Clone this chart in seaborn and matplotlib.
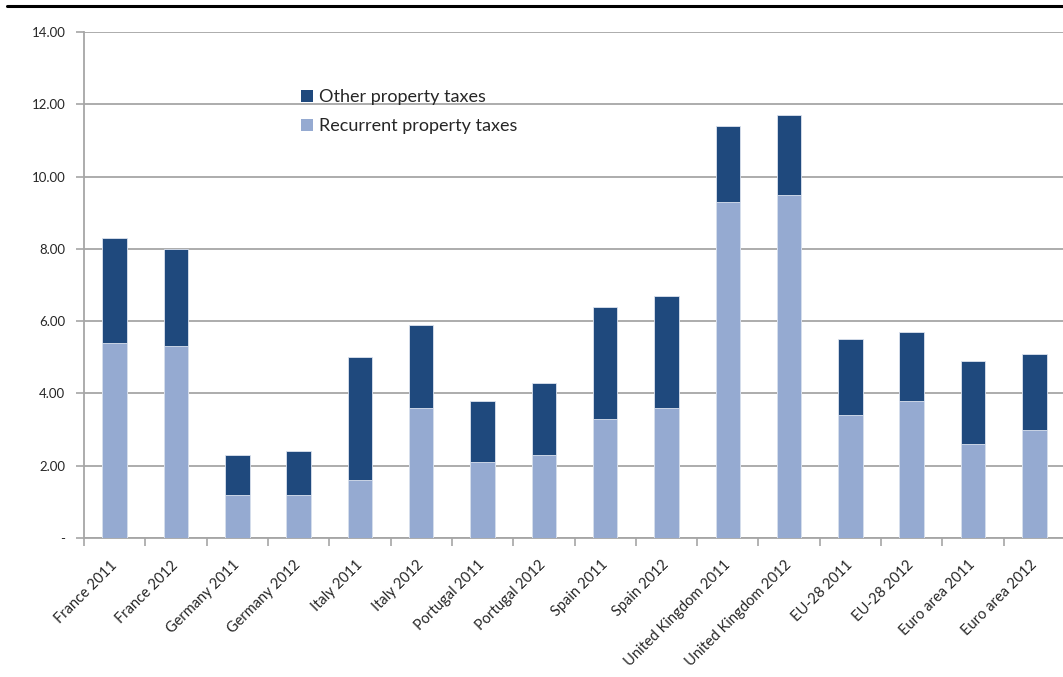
import matplotlib
matplotlib.use("Agg")
import matplotlib.pyplot as plt
from matplotlib.patches import Patch
from matplotlib.lines import Line2D
from matplotlib.ticker import FixedLocator, FuncFormatter
import numpy as np
import pandas as pd
import seaborn as sns

# Property taxes, 2011 and 2012
categories = [
    "France 2011", "France 2012", "Germany 2011", "Germany 2012",
    "Italy 2011", "Italy 2012", "Portugal 2011", "Portugal 2012",
    "Spain 2011", "Spain 2012", "United Kingdom 2011", "United Kingdom 2012",
    "EU-28 2011", "EU-28 2012", "Euro area 2011", "Euro area 2012",
]
recurrent = [5.4, 5.3, 1.2, 1.2, 1.6, 3.6, 2.1, 2.3,
             3.3, 3.6, 9.3, 9.5, 3.4, 3.8, 2.6, 3.0]
other = [2.9, 2.7, 1.1, 1.2, 3.4, 2.3, 1.7, 2.0,
         3.1, 3.1, 2.1, 2.2, 2.1, 1.9, 2.3, 2.1]
series_names = ["Other property taxes", "Recurrent property taxes"]
y_ticks = [0, 2, 4, 6, 8, 10, 12, 14]

DARK = "#1f497d"
LIGHT = "#95aad1"
GRID = "#a6a6a6"
TEXT = "#262626"

sns.set_style("white")
plt.rcParams["font.family"] = ["Lato", "DejaVu Sans"]

df = pd.DataFrame({
    "category": categories,
    "recurrent": recurrent,
    "other": other,
})
df["total"] = df["recurrent"] + df["other"]

fig = plt.figure(figsize=(10.63, 6.77), dpi=100)
ax = fig.add_axes([84 / 1063, 1 - 538 / 677, 981 / 1063, 506 / 677])

# stacked bars: full height in dark, recurrent part drawn over it in light
sns.barplot(data=df, x="category", y="total", color=DARK, width=0.4,
            edgecolor="#dce3ef", linewidth=0.6, saturation=1, ax=ax, zorder=3)
sns.barplot(data=df, x="category", y="recurrent", color=LIGHT, width=0.4,
            edgecolor="#dce3ef", linewidth=0.6, saturation=1, ax=ax, zorder=4)

ax.set_xlim(-0.5, len(categories) - 0.5)
ax.set_ylim(0, 14)
ax.set_xlabel("")
ax.set_ylabel("")

ax.yaxis.set_major_locator(FixedLocator(y_ticks))
ax.yaxis.set_major_formatter(FuncFormatter(lambda v, p: "-" if v == 0 else f"{v:.2f}"))
ax.grid(axis="y", color=GRID, linewidth=1.3, zorder=0)
ax.set_axisbelow(True)

for side in ["top", "right"]:
    ax.spines[side].set_visible(False)
for side in ["left", "bottom"]:
    ax.spines[side].set_color(GRID)
    ax.spines[side].set_linewidth(1.3)

ax.tick_params(axis="y", which="major", direction="out", length=6, width=1.2,
               color=GRID, left=True, labelsize=9.5, labelcolor=TEXT, pad=7.5)

# category labels at bar centres, tick marks at category boundaries
ax.set_xticks(range(len(categories)))
ax.set_xticklabels(categories, rotation=45, ha="right", va="center",
                   rotation_mode="anchor", fontsize=10.5, color=TEXT)
ax.xaxis.set_minor_locator(FixedLocator(np.arange(-0.5, len(categories), 1.0)))
ax.tick_params(axis="x", which="major", length=0, pad=18)
ax.tick_params(axis="x", which="minor", direction="out", length=6, width=1.2,
               color=GRID, bottom=True)

handles = [Patch(facecolor=DARK, edgecolor="none"),
           Patch(facecolor=LIGHT, edgecolor="none")]
ax.legend(handles, series_names, loc="upper left",
          bbox_to_anchor=(210 / 981, 1 - 50 / 506), frameon=False,
          fontsize=13, handlelength=0.65, handleheight=0.65,
          handletextpad=0.35, labelspacing=0.72, borderaxespad=0,
          labelcolor=TEXT)

# rule across the top of the figure
fig.add_artist(Line2D([7 / 1063, 1.0], [1 - 6 / 677, 1 - 6 / 677],
                      transform=fig.transFigure, color="black", linewidth=2.2))

fig.savefig("out.png", dpi=100)
